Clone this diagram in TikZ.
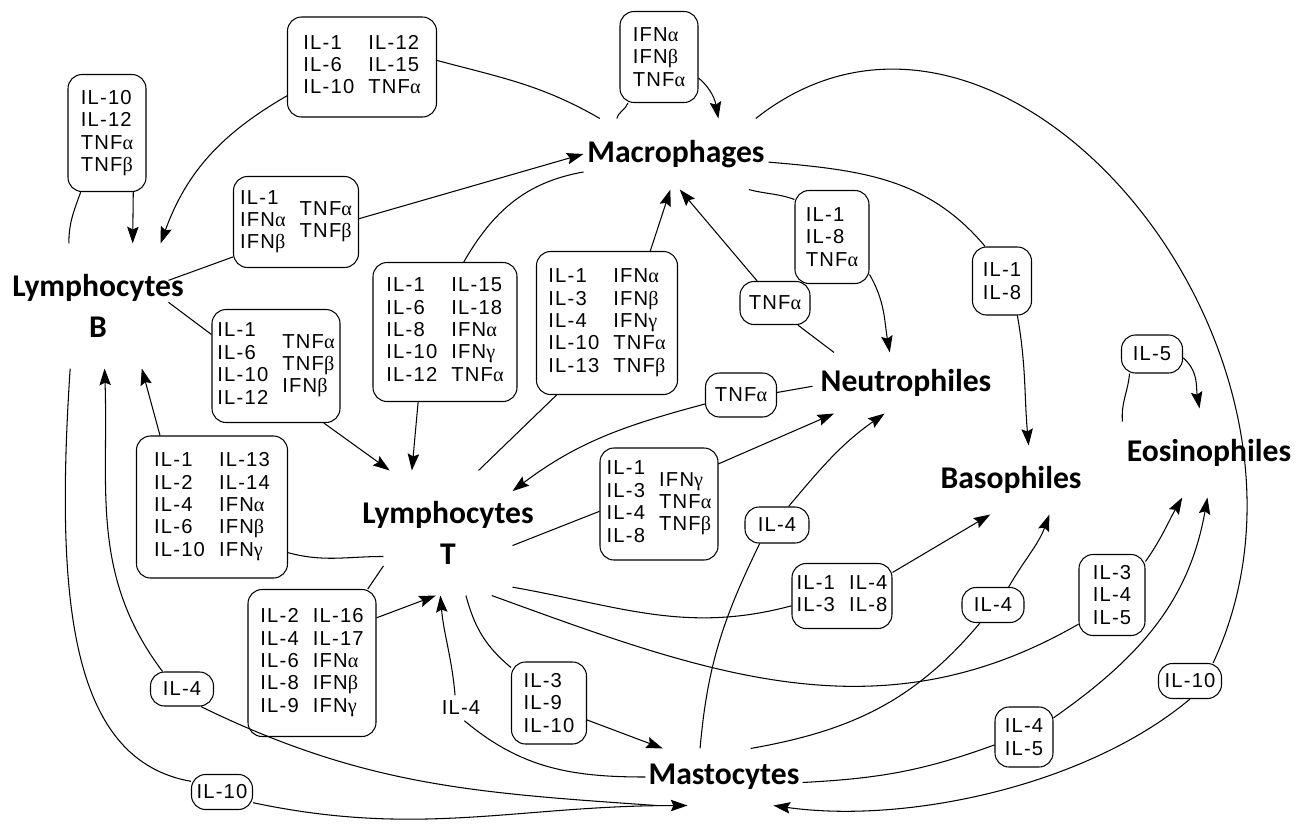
\documentclass[tikz,border=0pt]{standalone}
\usepackage{fontspec}
\setmainfont{Liberation Sans}[LetterSpace=6]
\newfontfamily\cellfont{Carlito}
\newfontfamily\greekfont{Liberation Serif}
\usetikzlibrary{arrows.meta}
\newdimen\px \px=0.02cm
\newcommand{\cname}[1]{\makebox[0pt]{#1}}
\newcommand{\alf}{{\greekfont α}}
\newcommand{\bet}{{\greekfont β}}
\newcommand{\gam}{{\greekfont γ}}
\newcommand{\colpair}[2]{\begin{tabular}{@{}l@{}}#1\end{tabular}\hspace{8pt}\begin{tabular}{@{}l@{}}#2\end{tabular}}
\begin{document}
\begin{tikzpicture}[x=0.02cm,y=-0.02cm,line width=0.6pt,
    cellname/.style 2 args={font=\cellfont\bfseries\fontsize{18}{23}\selectfont,align=center,inner sep=0pt,minimum width=#1\px,minimum height=#2\px},
    cytobox/.style 2 args={draw,rounded corners=8pt,font=\fontsize{11.5}{12.8}\selectfont,align=left,inner sep=2pt,minimum width=#1\px,minimum height=#2\px},
    bare/.style={font=\fontsize{11.5}{12.8}\selectfont,inner sep=3pt},
    >={Stealth[length=9.5pt,width=6.5pt,inset=1.5pt]}]
    \path[use as bounding box,fill=white] (0,0) rectangle (1309,825);

    \node[cellname={140}{124}] (lb) at (98,306) {\cname{Lymphocytes}\\\cname{B}};
    \node[cellname={128}{124}] (lt) at (448,533) {\cname{Lymphocytes}\\\cname{T}};
    \node[cellname={184}{70}] (mac) at (676,154) {\cname{Macrophages}};
    \node[cellname={186}{60}] (neu) at (906,383) {\cname{Neutrophiles}};
    \node[cellname={150}{68}] (bas) at (1011,480) {\cname{Basophiles}};
    \node[cellname={172}{88}] (eos) at (1209,453) {\cname{Eosinophiles}};
    \node[cellname={156}{56}] (mas) at (724,777) {\cname{Mastocytes}};

    \node[cytobox={78}{117}] (b1) at (107,133) {IL-10\\IL-12\\TNF\alf\\TNF\bet};
    \node[cytobox={149}{100}] (m1) at (362,67) {\colpair{IL-1\\IL-6\\IL-10}{IL-12\\IL-15\\TNF\alf}};
    \node[cytobox={78}{91}] (m2) at (659,57) {IFN\alf\\IFN\bet\\TNF\alf};
    \node[cytobox={125}{91}] (bm) at (296,222) {\colpair{IL-1\\IFN\alf\\IFN\bet}{TNF\alf\\TNF\bet}};
    \node[cytobox={128}{113}] (bt) at (276,366) {\colpair{IL-1\\IL-6\\IL-10\\IL-12}{TNF\alf\\TNF\bet\\IFN\bet}};
    \node[cytobox={144}{139}] (mt) at (445,332) {\colpair{IL-1\\IL-6\\IL-8\\IL-10\\IL-12}{IL-15\\IL-18\\IFN\alf\\IFN\gam\\TNF\alf}};
    \node[cytobox={141}{143}] (mt2) at (607,323) {\colpair{IL-1\\IL-3\\IL-4\\IL-10\\IL-13}{IFN\alf\\IFN\bet\\IFN\gam\\TNF\alf\\TNF\bet}};
    \node[cytobox={74}{93}] (mn) at (832,237) {IL-1\\IL-8\\TNF\alf};
    \node[cytobox={59}{68}] (mba) at (1002,281) {IL-1\\IL-8};
    \node[cytobox={70}{43}] (tnf1) at (775,303) {TNF\alf};
    \node[cytobox={71}{44}] (tnf2) at (741,395) {TNF\alf};
    \node[cytobox={118}{112}] (tn) at (659,504) {\colpair{IL-1\\IL-3\\IL-4\\IL-8}{IFN\gam\\TNF\alf\\TNF\bet}};
    \node[cytobox={64}{36}] (il4n) at (777,525) {IL-4};
    \node[cytobox={61}{38}] (il5) at (1152,354) {IL-5};
    \node[cytobox={151}{142}] (tbb) at (212,507) {\colpair{IL-1\\IL-2\\IL-4\\IL-6\\IL-10}{IL-13\\IL-14\\IFN\alf\\IFN\bet\\IFN\gam}};
    \node[cytobox={128}{147}] (tt) at (312,663) {\colpair{IL-2\\IL-4\\IL-6\\IL-8\\IL-9}{IL-16\\IL-17\\IFN\alf\\IFN\bet\\IFN\gam}};
    \node[cytobox={63}{34}] (il4l) at (182,689) {IL-4};
    \node[cytobox={61}{35}] (il10l) at (222,792) {IL-10};
    \node[cytobox={100}{65}] (tba) at (842,596) {\colpair{IL-1\\IL-3}{IL-4\\IL-8}};
    \node[cytobox={62}{35}] (il4b) at (993,605) {IL-4};
    \node[cytobox={66}{81}] (te) at (1112,595) {IL-3\\IL-4\\IL-5};
    \node[cytobox={63}{35}] (il10r) at (1190,681) {IL-10};
    \node[cytobox={58}{60}] (me) at (1024,737) {IL-4\\IL-5};
    \node[cytobox={75}{82}] (tm) at (549,703) {IL-3\\IL-9\\IL-10};
    \node[bare] (il4t) at (461,708) {IL-4};

    \draw (lb.115.8) to[out=90,in=250] (b1.-114.6);
    \draw[->] (b1.-66.9) -- (lb.61.3);
    \draw (mac.155.3) to[out=150,in=-15] (m1.5.4);
    \draw[->] (m1.-159.4) to[out=210,in=70] (lb.45);
    \draw (mac.149.3) to[out=75,in=250] (m2.-124.3);
    \draw[->] (m2.-28.3) to[out=-40,in=100] (mac.40.5);
    \draw (lb.20.4) -- (bm.209.25);
    \draw[->] (bm.3.7) -- (mac.180);
    \draw (lb.3.3) -- (bt.154.2);
    \draw[->] (bt.-50.2) -- (lt.133.1);
    \draw (mac.191.7) to[out=190,in=60] (mt.75.5);
    \draw[->] (mt.-111.9) -- (lt.120.1);
    \draw (lt.64.2) -- (mt2.-125.5);
    \draw[->] (mt2.59) -- (mac.-99.7);
    \draw (neu.157.9) -- (tnf1.-44.3);
    \draw[->] (tnf1.129.9) -- (mac.-84.3);
    \draw (mac.-26.2) to[out=-15,in=160] (mn.135);
    \draw[->] (mn.-45.8) to[out=-60,in=100] (neu.118.1);
    \draw (mac.-5) to[out=-5,in=130] (mba.116.6);
    \draw[->] (mba.-66.2) to[out=-80,in=95] (bas.63.4);
    \draw (mac.24.4) .. controls (1003,-77) and (1359,350) .. (il10r.38.5);
    \draw[->] (il10r.-90) to[out=-140,in=-8,looseness=0.8] (mas.-30.3);
    \draw (eos.160) to[out=95,in=-95] (il5.-139.2);
    \draw[->] (il5.-7.5) to[out=-40,in=100] (eos.102.8);
    \draw (neu.182.5) -- (tnf2.4.8);
    \draw[->] (tnf2.194.2) to[out=195,in=37] (lt.33.9);
    \draw (lt.-11.5) -- (tn.187.7);
    \draw[->] (tn.34.8) -- (neu.-157.7);
    \draw (mas.130.6) to[out=85,in=-116] (il4n.-133.4);
    \draw[->] (il4n.58.6) to[out=50,in=-145] (neu.-125);
    \draw (lt.-160.2) to[out=180,in=-15] (tbb.-31.35);
    \draw[->] (tbb.126.2) -- (lb.-55.9);
    \draw (mas.-157.3) to[out=176,in=-26] (il4l.-43.4);
    \draw[->] (il4l.138.2) to[out=127,in=-88] (lb.-84.5);
    \draw (lb.-114.3) .. controls (55,600) and (70,760) .. (il10l.161.8);
    \draw[->] (il10l.-19.8) to[out=-12,in=180] (mas.-142.1);
    \draw (mas.180) to[out=180,in=-40] (il4t.-75);
    \draw[->] (il4t.115) to[out=95,in=-85] (lt.-97.4);
    \draw (lt.-74.7) to[out=-75,in=140] (tm.137);
    \draw[->] (tm.-24.4) -- (mas.155.3);
    \draw (lt.-153.4) -- (tt.53.2);
    \draw[->] (tt.35.7) -- (lt.-101.8);
    \draw (lt.-40.7) to[out=-10,in=195] (tba.191.3);
    \draw[->] (tba.25.6) -- (bas.-121.7);
    \draw (mas.47.1) to[out=10,in=-130] (il4b.-126.6);
    \draw[->] (il4b.49.4) to[out=60,in=-110] (bas.-42.6);
    \draw (lt.-55.9) to[out=-20,in=210] (te.-139.7);
    \draw[->] (te.45) to[out=55,in=-120] (eos.-121.5);
    \draw (mas.-4.4) to[out=3,in=200] (me.195.4);
    \draw[->] (me.33.2) to[out=35,in=-100] (eos.-92.6);
\end{tikzpicture}
\end{document}
